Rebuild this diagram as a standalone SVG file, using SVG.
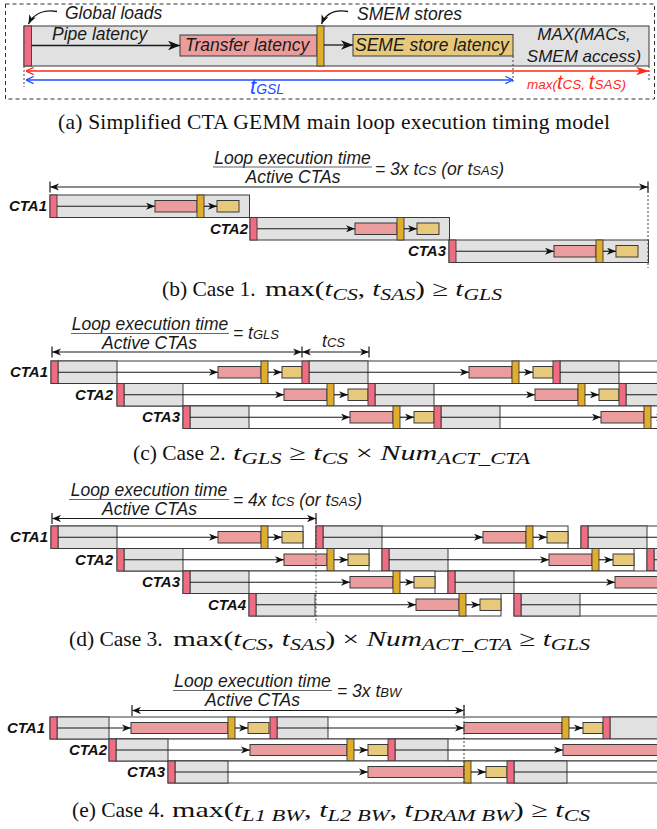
<svg xmlns="http://www.w3.org/2000/svg" width="657" height="829" viewBox="0 0 657 829">
<style>
  .lbl{font-family:"Liberation Sans",Arial,sans-serif;font-style:italic;font-size:17.5px;fill:#1a1a1a}
  .sm{font-size:13px}
  .cta{font-family:"Liberation Sans",Arial,sans-serif;font-style:italic;font-weight:bold;font-size:15px;fill:#111;text-anchor:end}
  .cap{font-family:"Liberation Serif","Times New Roman",serif;font-size:21.5px;fill:#111}
  .mth{font-family:"Liberation Serif","Times New Roman",serif;font-size:22px;fill:#111}
  .mi{font-style:italic}
  .sb{font-style:italic;font-size:16.5px}
  .gr{fill:#e1e1e1;stroke:#3a3a3a;stroke-width:1}
  .wt{fill:#fff;stroke:#3a3a3a;stroke-width:1}
  .rd{fill:#ef6c82;stroke:#3a3a3a;stroke-width:0.9}
  .pk{fill:#eb9d9d;stroke:#3a3a3a;stroke-width:1}
  .gd{fill:#e0ae2c;stroke:#3a3a3a;stroke-width:0.9}
  .yl{fill:#e7c97b;stroke:#3a3a3a;stroke-width:1}
  .ar{stroke:#1a1a1a;stroke-width:1.2;fill:none;marker-end:url(#ah)}
  .dim{stroke:#1a1a1a;stroke-width:1.2;fill:none;marker-start:url(#ah);marker-end:url(#ah)}
  .tk{stroke:#1a1a1a;stroke-width:1.2}
  .fb{stroke:#666;stroke-width:1.2}
  .dot{stroke:#444;stroke-width:1;stroke-dasharray:2 2;fill:none}
</style>
<defs>
  <marker id="ah" viewBox="0 0 10 8" refX="10" refY="4" markerWidth="9" markerHeight="7.2" markerUnits="userSpaceOnUse" orient="auto-start-reverse">
    <path d="M0,0 L10,4 L0,8 L2.8,4 z" fill="#111"/>
  </marker>
  <marker id="ahL" viewBox="0 0 10 8" refX="10" refY="4" markerWidth="12" markerHeight="9.6" markerUnits="userSpaceOnUse" orient="auto-start-reverse">
    <path d="M0,0 L10,4 L0,8 L2.8,4 z" fill="#111"/>
  </marker>
  <marker id="chR" viewBox="0 0 10 10" refX="9.5" refY="5" markerWidth="9" markerHeight="9" markerUnits="userSpaceOnUse" orient="auto-start-reverse">
    <path d="M1,1 L9.5,5 L1,9" fill="none" stroke="#ff2a1a" stroke-width="1.3"/>
  </marker>
  <marker id="chB" viewBox="0 0 10 10" refX="9.5" refY="5" markerWidth="9" markerHeight="9" markerUnits="userSpaceOnUse" orient="auto-start-reverse">
    <path d="M1,1 L9.5,5 L1,9" fill="none" stroke="#1e4fff" stroke-width="1.3"/>
  </marker>
  <marker id="ahR" viewBox="0 0 12 8" refX="12" refY="4" markerWidth="13" markerHeight="8.5" markerUnits="userSpaceOnUse" orient="auto">
    <path d="M0,0 L12,4 L0,8 L3,4 z" fill="#ff2a1a"/>
  </marker>

  <!-- one loop iteration, case 1 -->
  <g id="itB">
    <rect class="gr" x="0" y="0" width="199.5" height="22.5"/>
    <rect class="rd" x="0" y="0" width="7" height="22.5"/>
    <rect class="pk" x="105" y="5.5" width="42" height="11.5"/>
    <rect class="gd" x="147" y="0" width="7" height="22.5"/>
    <rect class="yl" x="167" y="5.5" width="22" height="11.5"/>
  </g>
  <g id="arB">
    <line class="ar" x1="7" y1="11.25" x2="105" y2="11.25"/>
    <line class="ar" x1="154" y1="11.25" x2="167" y2="11.25"/>
  </g>
  <!-- one loop iteration, cases 2 and 3 -->
  <g id="itC">
    <rect class="gr" x="7" y="0" width="59" height="22.5"/>
    <rect class="rd" x="0" y="0" width="7" height="22.5"/>
    <rect class="pk" x="167" y="5.5" width="43" height="11.5"/>
    <rect class="gd" x="210" y="0" width="7" height="22.5"/>
    <rect class="yl" x="231" y="5.5" width="20" height="11.5"/>
  </g>
  <g id="itD">
    <rect class="wt" x="0" y="0" width="252" height="22.5"/>
    <rect class="gr" x="7" y="0" width="59" height="22.5"/>
    <rect class="rd" x="0" y="0" width="7" height="22.5"/>
    <rect class="pk" x="167" y="5.5" width="43" height="11.5"/>
    <rect class="gd" x="210" y="0" width="7" height="22.5"/>
    <rect class="yl" x="231" y="5.5" width="21" height="11.5"/>
  </g>
  <g id="arC">
    <line class="ar" x1="7" y1="11.25" x2="167" y2="11.25"/>
    <line class="ar" x1="217" y1="11.25" x2="231" y2="11.25"/>
  </g>
</defs>

<rect x="0" y="0" width="657" height="829" fill="#fff"/>

<!-- ===== (a) timing model ===== -->
<rect x="5.5" y="4" width="649" height="95" fill="none" stroke="#333" stroke-width="1" stroke-dasharray="4 3"/>
<g id="a-loop">
  <rect class="gr" x="24" y="26" width="625" height="40"/>
  <rect class="rd" x="24" y="26" width="7.5" height="40"/>
  <rect class="pk" x="180" y="35" width="137" height="21"/>
  <rect class="gd" x="317" y="26" width="7" height="40"/>
  <rect class="yl" x="353" y="34.5" width="160" height="21.5"/>
  <text class="lbl" x="52" y="40">Pipe latency</text>
  <text class="lbl" x="185" y="51">Transfer latency</text>
  <text class="lbl" x="355" y="51">SEME store latency</text>
  <text class="lbl" x="584" y="40" text-anchor="middle" style="font-size:17px">MAX(MACs,</text>
  <text class="lbl" x="584" y="62" text-anchor="middle" style="font-size:17px">SMEM access)</text>
</g>
<g id="a-notes">
  <text class="lbl" x="65" y="19">Global loads</text>
  <text class="lbl" x="357" y="20">SMEM stores</text>
  <text class="lbl" x="250" y="94" style="fill:#1e4fff"><tspan style="font-size:22px">t</tspan><tspan style="font-size:14px">GSL</tspan></text>
  <text class="lbl" x="527" y="89" style="fill:#ff2a1a;font-size:13.5px">max(<tspan style="font-size:20px">t</tspan>CS, <tspan style="font-size:20px">t</tspan>SAS)</text>
</g>
<g id="a-connectors">
  <path d="M57,11.5 C45,9.5 34,13 28.5,24" fill="none" stroke="#111" stroke-width="1.3" marker-end="url(#ah)"/>
  <path d="M348,11.5 C336,9.5 326,13 321.5,24" fill="none" stroke="#111" stroke-width="1.3" marker-end="url(#ah)"/>
  <line x1="31.5" y1="45.5" x2="180" y2="45.5" stroke="#1a1a1a" stroke-width="1.3" marker-end="url(#ahL)"/>
  <line x1="324" y1="45" x2="353" y2="45" stroke="#1a1a1a" stroke-width="1.3" marker-end="url(#ahL)"/>
  <line class="dot" x1="24" y1="66" x2="24" y2="87"/>
  <line class="dot" x1="513" y1="56" x2="513" y2="84"/>
  <line class="dot" x1="649" y1="66" x2="649" y2="80"/>
  <line x1="26" y1="71" x2="649" y2="71" stroke="#ff2a1a" stroke-width="1.3" marker-start="url(#chR)" marker-end="url(#ahR)"/>
  <line x1="26" y1="80" x2="513" y2="80" stroke="#1e4fff" stroke-width="1.3" marker-start="url(#chB)" marker-end="url(#chB)"/>
</g>
<text class="cap" x="58" y="129" textLength="552" lengthAdjust="spacing">(a) Simplified CTA GEMM main loop execution timing model</text>

<!-- ===== (b) case 1 ===== -->
<g id="b-span">
  <text class="lbl" x="292.5" y="163.5" text-anchor="middle">Loop execution time</text>
  <line class="fb" x1="213" y1="167" x2="372" y2="167"/>
  <text class="lbl" x="293" y="182.5" text-anchor="middle">Active CTAs</text>
  <text class="lbl" x="375" y="175">= 3x t<tspan class="sm">CS</tspan> (or t<tspan class="sm">SAS</tspan>)</text>
</g>
<g id="b-cta1"><text class="cta" x="47" y="211">CTA1</text><use href="#itB" x="50" y="195"/></g>
<g id="b-cta2"><text class="cta" x="248" y="234">CTA2</text><use href="#itB" x="250" y="217.5"/></g>
<g id="b-cta3"><text class="cta" x="446" y="256">CTA3</text><use href="#itB" x="449" y="240"/></g>
<g id="b-connectors">
  <use href="#arB" x="50" y="195"/>
  <use href="#arB" x="250" y="217.5"/>
  <use href="#arB" x="449" y="240"/>
  <line class="dim" x1="50" y1="187" x2="648" y2="187"/>
  <line class="tk" x1="50" y1="181.5" x2="50" y2="192.5"/>
  <line class="tk" x1="648" y1="181.5" x2="648" y2="192.5"/>
  <line class="dot" x1="648" y1="187" x2="648" y2="268"/>
</g>
<text class="cap" x="162" y="296">(b) Case 1.</text>
<text class="mth" x="265" y="296" textLength="237" lengthAdjust="spacingAndGlyphs">max(<tspan class="mi">t</tspan><tspan class="sb" dy="4">CS</tspan><tspan dy="-4">, </tspan><tspan class="mi">t</tspan><tspan class="sb" dy="4">SAS</tspan><tspan dy="-4">) ≥ </tspan><tspan class="mi">t</tspan><tspan class="sb" dy="4">GLS</tspan></text>

<!-- ===== (c) case 2 ===== -->
<g id="c-span">
  <text class="lbl" x="150" y="330" text-anchor="middle">Loop execution time</text>
  <line class="fb" x1="71" y1="333.5" x2="229" y2="333.5"/>
  <text class="lbl" x="149.5" y="349" text-anchor="middle">Active CTAs</text>
  <text class="lbl" x="233" y="339">= t<tspan class="sm">GLS</tspan></text>
  <text class="lbl" x="322" y="347">t<tspan class="sm">CS</tspan></text>
</g>
<g id="c-cta1">
  <text class="cta" x="48" y="377">CTA1</text>
  <rect class="wt" x="51" y="361" width="640" height="22.5"/>
  <use href="#itC" x="51" y="361"/><use href="#itC" x="302" y="361"/><use href="#itC" x="553" y="361"/>
</g>
<g id="c-cta2">
  <text class="cta" x="113" y="399.5">CTA2</text>
  <rect class="wt" x="117" y="383.5" width="580" height="22.5"/>
  <use href="#itC" x="117" y="383.5"/><use href="#itC" x="368" y="383.5"/><use href="#itC" x="619" y="383.5"/>
</g>
<g id="c-cta3">
  <text class="cta" x="180" y="422">CTA3</text>
  <rect class="wt" x="183" y="406" width="520" height="22.5"/>
  <use href="#itC" x="183" y="406"/><use href="#itC" x="434" y="406"/>
</g>
<g id="c-connectors">
  <use href="#arC" x="51" y="361"/><use href="#arC" x="302" y="361"/><use href="#arC" x="553" y="361"/>
  <use href="#arC" x="117" y="383.5"/><use href="#arC" x="368" y="383.5"/><use href="#arC" x="619" y="383.5"/>
  <use href="#arC" x="183" y="406"/><use href="#arC" x="434" y="406"/>
  <line class="dim" x1="52" y1="352" x2="302" y2="352"/>
  <line class="dim" x1="302" y1="352" x2="369" y2="352"/>
  <line class="tk" x1="52" y1="346.5" x2="52" y2="357.5"/>
  <line class="tk" x1="302" y1="346.5" x2="302" y2="357.5"/>
  <line class="tk" x1="369" y1="346.5" x2="369" y2="357.5"/>
</g>
<text class="cap" x="133" y="460">(c) Case 2.</text>
<text class="mth" x="233" y="460" textLength="297" lengthAdjust="spacingAndGlyphs"><tspan class="mi">t</tspan><tspan class="sb" dy="4">GLS</tspan><tspan dy="-4"> ≥ </tspan><tspan class="mi">t</tspan><tspan class="sb" dy="4">CS</tspan><tspan dy="-4"> × </tspan><tspan class="mi">Num</tspan><tspan class="sb" dy="4">ACT_CTA</tspan></text>

<!-- ===== (d) case 3 ===== -->
<g id="d-span">
  <text class="lbl" x="149" y="496" text-anchor="middle">Loop execution time</text>
  <line class="fb" x1="69" y1="499.5" x2="229" y2="499.5"/>
  <text class="lbl" x="149.5" y="515" text-anchor="middle">Active CTAs</text>
  <text class="lbl" x="233" y="506">= 4x t<tspan class="sm">CS</tspan> (or t<tspan class="sm">SAS</tspan>)</text>
</g>
<g id="d-cta1"><text class="cta" x="48" y="542">CTA1</text>
  <use href="#itD" x="51" y="526"/><use href="#itD" x="316" y="526"/><use href="#itD" x="581" y="526"/></g>
<g id="d-cta2"><text class="cta" x="113" y="565">CTA2</text>
  <use href="#itD" x="117" y="548.5"/><use href="#itD" x="382" y="548.5"/><use href="#itD" x="647" y="548.5"/></g>
<g id="d-cta3"><text class="cta" x="180" y="587">CTA3</text>
  <use href="#itD" x="183" y="571"/><use href="#itD" x="448" y="571"/></g>
<g id="d-cta4"><text class="cta" x="246" y="610">CTA4</text>
  <use href="#itD" x="249" y="593.5"/><use href="#itD" x="514" y="593.5"/></g>
<g id="d-connectors">
  <use href="#arC" x="51" y="526"/><use href="#arC" x="316" y="526"/><use href="#arC" x="581" y="526"/>
  <use href="#arC" x="117" y="548.5"/><use href="#arC" x="382" y="548.5"/><use href="#arC" x="647" y="548.5"/>
  <use href="#arC" x="183" y="571"/><use href="#arC" x="448" y="571"/>
  <use href="#arC" x="249" y="593.5"/><use href="#arC" x="514" y="593.5"/>
  <line class="dim" x1="52" y1="518.5" x2="316" y2="518.5"/>
  <line class="tk" x1="52" y1="513" x2="52" y2="524"/>
  <line class="tk" x1="316" y1="513" x2="316" y2="524"/>
  <line class="dot" x1="316" y1="518.5" x2="316" y2="623"/>
</g>
<text class="cap" x="69" y="646">(d) Case 3.</text>
<text class="mth" x="173" y="646" textLength="417" lengthAdjust="spacingAndGlyphs">max(<tspan class="mi">t</tspan><tspan class="sb" dy="4">CS</tspan><tspan dy="-4">, </tspan><tspan class="mi">t</tspan><tspan class="sb" dy="4">SAS</tspan><tspan dy="-4">) × </tspan><tspan class="mi">Num</tspan><tspan class="sb" dy="4">ACT_CTA</tspan><tspan dy="-4"> ≥ </tspan><tspan class="mi">t</tspan><tspan class="sb" dy="4">GLS</tspan></text>

<!-- ===== (e) case 4 ===== -->
<g id="e-span">
  <text class="lbl" x="252.5" y="687" text-anchor="middle">Loop execution time</text>
  <line class="fb" x1="173" y1="690.5" x2="332" y2="690.5"/>
  <text class="lbl" x="252.5" y="705.5" text-anchor="middle">Active CTAs</text>
  <text class="lbl" x="337" y="697">= 3x t<tspan class="sm">BW</tspan></text>
</g>
<g id="e-cta1">
  <text class="cta" x="45" y="733">CTA1</text>
  <rect class="wt" x="50" y="717" width="640" height="22"/>
  <rect class="gr" x="57" y="717" width="52" height="22"/>
  <rect class="rd" x="50" y="717" width="7" height="22"/>
  <rect class="pk" x="131" y="722.5" width="97" height="11"/>
  <rect class="gd" x="228" y="717" width="7" height="22"/>
  <rect class="yl" x="248" y="722.5" width="21" height="11"/>
  <rect class="gr" x="277" y="717" width="51" height="22"/>
  <rect class="rd" x="270" y="717" width="7" height="22"/>
  <rect class="pk" x="464" y="722.5" width="98" height="11"/>
  <rect class="gd" x="562" y="717" width="7" height="22"/>
  <rect class="yl" x="583" y="722.5" width="20" height="11"/>
  <rect class="gr" x="610" y="717" width="80" height="22"/>
  <rect class="rd" x="603" y="717" width="7" height="22"/>
</g>
<g id="e-cta2">
  <text class="cta" x="107" y="755">CTA2</text>
  <rect class="wt" x="109" y="739" width="600" height="22"/>
  <rect class="gr" x="116" y="739" width="52" height="22"/>
  <rect class="rd" x="109" y="739" width="7" height="22"/>
  <rect class="pk" x="250" y="744.5" width="97" height="11"/>
  <rect class="gd" x="347" y="739" width="7" height="22"/>
  <rect class="yl" x="368" y="744.5" width="20" height="11"/>
  <rect class="gr" x="395" y="739" width="53" height="22"/>
  <rect class="rd" x="388" y="739" width="7" height="22"/>
  <rect class="pk" x="563" y="744.5" width="120" height="11"/>
</g>
<g id="e-cta3">
  <text class="cta" x="165" y="777">CTA3</text>
  <rect class="wt" x="168" y="761" width="540" height="22"/>
  <rect class="gr" x="175" y="761" width="53" height="22"/>
  <rect class="rd" x="168" y="761" width="7" height="22"/>
  <rect class="pk" x="368" y="766.5" width="96" height="11"/>
  <rect class="gd" x="464" y="761" width="7" height="22"/>
  <rect class="yl" x="486" y="766.5" width="21" height="11"/>
  <rect class="gr" x="514" y="761" width="53" height="22"/>
  <rect class="rd" x="507" y="761" width="7" height="22"/>
</g>
<g id="e-connectors">
  <line class="ar" x1="57" y1="728" x2="131" y2="728"/>
  <line class="ar" x1="235" y1="728" x2="248" y2="728"/>
  <line class="ar" x1="277" y1="728" x2="464" y2="728"/>
  <line class="ar" x1="569" y1="728" x2="583" y2="728"/>
  <line class="ar" x1="116" y1="750" x2="250" y2="750"/>
  <line class="ar" x1="354" y1="750" x2="368" y2="750"/>
  <line class="ar" x1="395" y1="750" x2="563" y2="750"/>
  <line class="ar" x1="175" y1="772" x2="368" y2="772"/>
  <line class="ar" x1="471" y1="772" x2="486" y2="772"/>
  <line class="ar" x1="514" y1="772" x2="720" y2="772"/>
  <line class="dim" x1="132" y1="710.5" x2="464" y2="710.5"/>
  <line class="tk" x1="132" y1="705" x2="132" y2="716"/>
  <line class="tk" x1="464" y1="705" x2="464" y2="716"/>
  <line class="dot" x1="464" y1="705" x2="464" y2="783"/>
</g>
<text class="cap" x="72" y="817">(e) Case 4.</text>
<text class="mth" x="172" y="817" textLength="418" lengthAdjust="spacingAndGlyphs">max(<tspan class="mi">t</tspan><tspan class="sb" dy="4">L1 BW</tspan><tspan dy="-4">, </tspan><tspan class="mi">t</tspan><tspan class="sb" dy="4">L2 BW</tspan><tspan dy="-4">, </tspan><tspan class="mi">t</tspan><tspan class="sb" dy="4">DRAM BW</tspan><tspan dy="-4">) ≥ </tspan><tspan class="mi">t</tspan><tspan class="sb" dy="4">CS</tspan></text>
</svg>
